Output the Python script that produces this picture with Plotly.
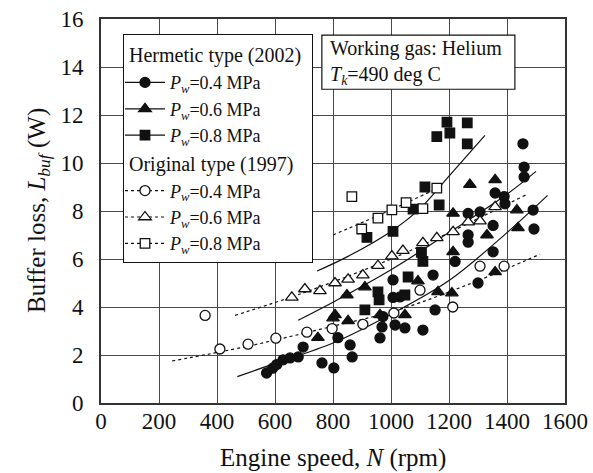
import plotly.graph_objects as go

# ---------------- data ----------------
# Hermetic type (2002)
h04_rpm = [571, 592, 606, 628, 652, 680, 697, 762, 803, 817, 859, 866, 962, 969, 1014, 1048,
           1110, 1152, 1007, 1031, 1007, 1145, 1221, 1266, 1266, 1300, 1352, 1352, 1266, 1307,
           1393, 1359, 1390, 1455, 1459, 1459, 1490, 1493, 972]
h04_w = [1.25, 1.45, 1.6, 1.8, 1.88, 1.92, 2.33, 1.67, 1.46, 2.72, 2.42, 1.92, 2.71, 3.17, 3.25, 3.13,
         3.04, 3.88, 4.4, 4.42, 5.13, 5.33, 5.9, 6.7, 7.0, 5.0, 6.3, 7.4, 7.9, 7.96,
         8.3, 8.75, 8.6, 10.8, 9.83, 9.42, 8.04, 7.25, 3.6]

h06_rpm = [748, 800, 807, 852, 848, 910, 962, 1048, 1093, 1162, 1210, 1214, 1214, 1272,
           1331, 1359, 1359, 1434, 1438]
h06_w = [2.72, 3.54, 3.67, 3.42, 4.5, 4.83, 3.67, 3.67, 5.08, 4.63, 4.58, 6.3, 7.9, 9.1,
         7.0, 5.46, 9.3, 8.04, 7.3]

h08_rpm = [917, 1007, 1076, 1117, 1166, 1158, 1193, 1203, 1263, 1263, 1105, 1110, 1059,
           955, 959, 910, 1048]
h08_w = [6.9, 7.15, 8.08, 9.0, 8.25, 11.1, 11.7, 11.25, 11.67, 10.8, 6.28, 5.9, 5.25,
         4.63, 4.3, 3.88, 4.5]

# Original type (1997)
o04_rpm = [359, 410, 507, 603, 710, 797, 903, 1010, 1100, 1213, 1307, 1390]
o04_w = [3.65, 2.25, 2.45, 2.7, 2.95, 3.1, 3.28, 3.75, 4.7, 4.0, 5.7, 5.7]

o06_rpm = [658, 703, 755, 807, 852, 903, 955, 1003, 1041, 1110, 1158, 1214, 1266, 1307, 1359]
o06_w = [4.4, 4.75, 4.67, 5.0, 5.15, 5.33, 5.72, 6.12, 6.35, 6.67, 6.88, 7.13, 7.54, 7.58, 8.17]

o08_rpm = [865, 899, 955, 1003, 1052, 1110, 1158]
o08_w = [8.6, 7.25, 7.7, 8.05, 8.35, 8.1, 8.95]

# fitted curves
h04_fit_rpm = [470, 600, 800, 1000, 1200, 1400, 1540]
h04_fit_w = [1.1, 1.65, 2.5, 3.7, 5.1, 7.1, 8.65]
h06_fit_rpm = [680, 800, 1000, 1200, 1400, 1500]
h06_fit_w = [3.45, 4.2, 5.55, 7.1, 8.7, 9.65]
h08_fit_rpm = [745, 850, 1000, 1100, 1200, 1324]
h08_fit_w = [5.5, 6.1, 7.15, 8.1, 9.45, 11.15]
o04_fit_rpm = [245, 500, 800, 1030, 1300, 1514]
o04_fit_w = [1.75, 2.35, 3.2, 3.9, 5.1, 6.2]
o06_fit_rpm = [462, 700, 1000, 1200, 1470]
o06_fit_w = [3.65, 4.6, 6.0, 7.1, 8.7]
o08_fit_rpm = [800, 1000, 1170]
o08_fit_w = [7.0, 8.05, 9.0]

legend_labels = ["<i>P</i><sub><i>w</i></sub>=0.4 MPa",
                 "<i>P</i><sub><i>w</i></sub>=0.6 MPa",
                 "<i>P</i><sub><i>w</i></sub>=0.8 MPa"]
x_ticks = [0, 200, 400, 600, 800, 1000, 1200, 1400, 1600]
y_ticks = [0, 2, 4, 6, 8, 10, 12, 14, 16]

FONT = "Liberation Serif"
INK = "#111111"

fig = go.Figure()

# fitted curves
fits = [
    (h04_fit_rpm, h04_fit_w, "solid"),
    (h06_fit_rpm, h06_fit_w, "solid"),
    (h08_fit_rpm, h08_fit_w, "solid"),
    (o04_fit_rpm, o04_fit_w, "3px,3px"),
    (o06_fit_rpm, o06_fit_w, "3px,3px"),
    (o08_fit_rpm, o08_fit_w, "3px,3px"),
]
for xs, ys, dash in fits:
    fig.add_trace(go.Scatter(x=xs, y=ys, mode="lines", line_shape="spline",
                             line=dict(color=INK, width=1.2, dash=dash),
                             showlegend=False, hoverinfo="skip"))

series = [
    (h04_rpm, h04_w, "circle", 10, INK, "h"),
    (h06_rpm, h06_w, "triangle-up", 11, INK, "h"),
    (h08_rpm, h08_w, "square", 9.5, INK, "h"),
    (o04_rpm, o04_w, "circle", 10, "white", "o"),
    (o06_rpm, o06_w, "triangle-up", 11, "white", "o"),
    (o08_rpm, o08_w, "square", 9.5, "white", "o"),
]
for xs, ys, sym, size, fill, grp in series:
    fig.add_trace(go.Scatter(x=xs, y=ys, mode="markers",
                             marker=dict(symbol=sym, size=size, color=fill,
                                         line=dict(color=INK, width=1.3)),
                             showlegend=False))

# legend entries (line + marker samples)
group_titles = {"h": "Hermetic type (2002)", "o": "Original type (1997)"}
for i, (xs, ys, sym, size, fill, grp) in enumerate(series):
    dash = "solid" if grp == "h" else "3px,3px"
    fig.add_trace(go.Scatter(x=[None], y=[None], mode="lines+markers",
                             name=legend_labels[i % 3],
                             legendgroup=grp,
                             legendgrouptitle=dict(text=group_titles[grp],
                                                   font=dict(family=FONT, size=20, color=INK)),
                             marker=dict(symbol=sym, size=size, color=fill,
                                         line=dict(color=INK, width=1.3)),
                             line=dict(color=INK, width=1.2, dash=dash)))

# "Working gas" note: framed box with two text lines
fig.add_shape(type="rect", xref="paper", yref="paper",
              x0=0.476, x1=0.892, y0=0.817, y1=0.958,
              line=dict(color=INK, width=1.2), fillcolor="white", layer="above")
fig.add_annotation(xref="paper", yref="paper", x=0.489, y=0.888, xanchor="left", yanchor="middle",
                   text="Working gas: Helium<br><i>T</i><sub><i>k</i></sub>=490 deg C",
                   showarrow=False, align="left",
                   font=dict(family=FONT, size=20, color=INK))

# axis titles
fig.add_annotation(xref="paper", yref="paper", x=0.5, y=0, yanchor="middle", yshift=-55,
                   text="Engine speed, <i>N</i> (rpm)", showarrow=False,
                   font=dict(family=FONT, size=25, color=INK))
fig.add_annotation(xref="paper", yref="paper", x=0, y=0.5, xanchor="center", xshift=-63,
                   textangle=-90, text="Buffer loss, <i>L</i><sub><i>buf</i></sub> (W)",
                   showarrow=False, font=dict(family=FONT, size=25, color=INK))

axis_common = dict(showgrid=True, gridcolor="#4a4a4a", gridwidth=1.3,
                   showline=True, linecolor="#333333", linewidth=2, mirror=True,
                   zeroline=False, ticks="", automargin=False, ticklabeloverflow="allow",
                   tickfont=dict(family=FONT, size=23, color=INK))

fig.update_xaxes(range=[0, 1600], tickvals=x_ticks, ticktext=[str(v) for v in x_ticks],
                 ticklabelstandoff=-4, **axis_common)
fig.update_yaxes(range=[0, 16], tickvals=y_ticks, ticktext=[str(v) for v in y_ticks],
                 ticklabelstandoff=11, **axis_common)

fig.update_layout(
    width=593, height=473,
    margin=dict(l=101, r=28, t=19, b=70, autoexpand=False),
    plot_bgcolor="white", paper_bgcolor="white",
    font=dict(family=FONT, color=INK),
    legend=dict(x=0.047, y=0.961, xanchor="left", yanchor="top",
                bgcolor="white", bordercolor=INK, borderwidth=1.2,
                font=dict(family=FONT, size=18, color=INK),
                traceorder="grouped", tracegroupgap=0, itemwidth=40,
                indentation=-4),
)

# remove the browser's default 8px page margin so the figure fills the window exactly
fig.write_html("out.html",
               config={"displayModeBar": False},
               post_script="document.body.style.margin='0';document.body.style.overflow='hidden';")
